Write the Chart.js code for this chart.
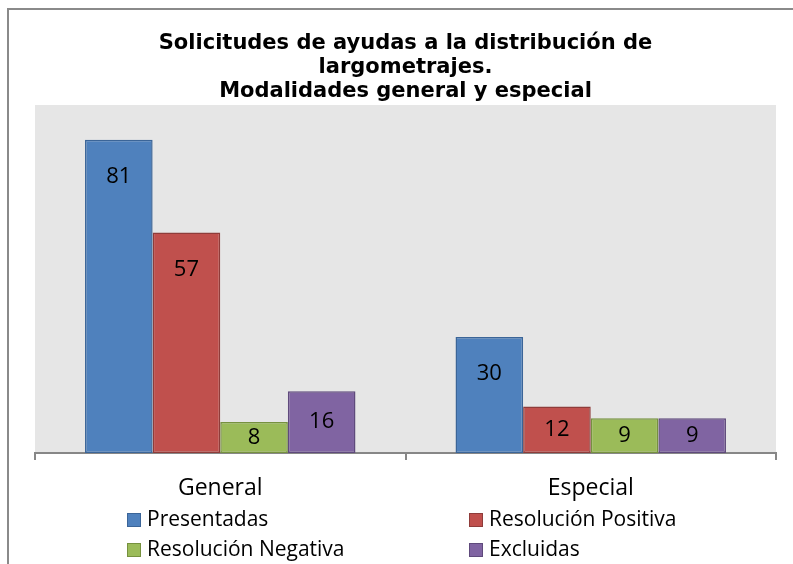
<!DOCTYPE html>
<html>
<head>
<meta charset="utf-8">
<script src="https://cdn.jsdelivr.net/npm/chart.js@4.4.0/dist/chart.umd.min.js"></script>
<style>
html, body { margin: 0; padding: 0; background: #fff; }
</style>
</head>
<body>
<canvas id="myChart" width="793" height="564"></canvas>
<script>
// data
var categories = ['General', 'Especial'];
var seriesNames = ['Presentadas', 'Resolución Positiva', 'Resolución Negativa', 'Excluidas'];
var presentadas = [81, 30];
var positiva = [57, 12];
var negativa = [8, 9];
var excluidas = [16, 9];

var fills = ['#4f81bd', '#c0504d', '#9bbb59', '#8064a2'];
var borders = ['#3b6598', '#8f3c3a', '#76913f', '#5f4a7c'];
var series = [presentadas, positiva, negativa, excluidas];

var datasets = series.map(function (vals, i) {
  return {
    label: seriesNames[i],
    data: vals,
    backgroundColor: fills[i],
    borderColor: borders[i],
    borderWidth: 1.5,
    borderSkipped: false
  };
});

// grey plot area + outer frame
var bgPlugin = {
  id: 'bg',
  beforeDraw: function (chart) {
    var ctx = chart.ctx, a = chart.chartArea;
    ctx.save();
    ctx.fillStyle = '#ffffff';
    ctx.fillRect(0, 0, chart.width, chart.height);
    ctx.fillStyle = '#e6e6e6';
    ctx.fillRect(a.left, a.top, a.right - a.left, a.bottom - a.top);
    ctx.strokeStyle = '#8a8a8a';
    ctx.lineWidth = 2;
    ctx.beginPath();
    ctx.moveTo(8, chart.height);
    ctx.lineTo(8, 9);
    ctx.lineTo(chart.width, 9);
    ctx.stroke();
    ctx.restore();
  }
};

// value labels inside the bars
var valuePlugin = {
  id: 'values',
  afterDatasetsDraw: function (chart) {
    var ctx = chart.ctx;
    ctx.save();
    ctx.font = '22px "Open Sans"';
    ctx.fillStyle = '#000';
    ctx.textAlign = 'center';
    ctx.textBaseline = 'middle';
    chart.data.datasets.forEach(function (ds, i) {
      var meta = chart.getDatasetMeta(i);
      meta.data.forEach(function (bar, j) {
        var y = Math.min(bar.y + 37, (bar.y + bar.base) / 2);
        ctx.fillText(String(ds.data[j]), bar.x, y);
      });
    });
    ctx.restore();
  }
};

// two column legend under the axis
var legendPlugin = {
  id: 'legend2col',
  afterDraw: function (chart) {
    var ctx = chart.ctx;
    var cols = [127, 469];
    var rows = [520, 550];
    ctx.save();
    ctx.font = '21px "Open Sans"';
    ctx.textBaseline = 'middle';
    ctx.textAlign = 'left';
    chart.data.datasets.forEach(function (ds, i) {
      var x = cols[i % 2], y = rows[Math.floor(i / 2)];
      ctx.fillStyle = ds.backgroundColor;
      ctx.fillRect(x, y - 7, 14, 14);
      ctx.strokeStyle = ds.borderColor;
      ctx.lineWidth = 1;
      ctx.strokeRect(x + 0.5, y - 6.5, 13, 13);
      ctx.fillStyle = '#000';
      ctx.fillText(ds.label, x + 20, y);
    });
    ctx.restore();
  }
};

var ctx = document.getElementById('myChart').getContext('2d');
var myChart = new Chart(ctx, {
  type: 'bar',
  data: { labels: categories, datasets: datasets },
  plugins: [bgPlugin, valuePlugin, legendPlugin],
  options: {
    responsive: false,
    animation: false,
    categoryPercentage: 0.73,
    barPercentage: 1,
    layout: { padding: { left: 35, right: 17, top: 0, bottom: 0 } },
    plugins: {
      legend: { display: false },
      tooltip: { enabled: false },
      title: {
        display: true,
        text: ['Solicitudes de ayudas a la distribución de', 'largometrajes.', 'Modalidades general y especial'],
        color: '#000',
        font: { family: 'DejaVu Sans', weight: 'bold', size: 21, lineHeight: 1.143 },
        padding: { top: 32, bottom: 1 }
      }
    },
    scales: {
      x: {
        grid: { drawOnChartArea: false, drawTicks: true, tickLength: 7, color: '#878787', lineWidth: 2, offset: true },
        border: { color: '#878787', width: 2 },
        ticks: { color: '#000', font: { family: 'Open Sans', size: 23 }, padding: 15 },
        afterFit: function (scale) { scale.height = 111; }
      },
      y: { display: false, min: 0, max: 90 }
    }
  }
});
</script>
</body>
</html>
